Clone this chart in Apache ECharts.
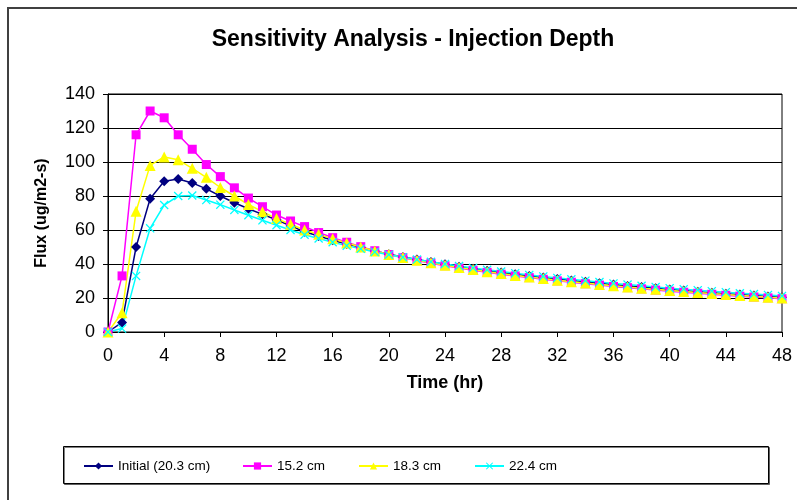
<!DOCTYPE html>
<html>
<head>
<meta charset="utf-8">
<script src="https://cdn.jsdelivr.net/npm/echarts@6/dist/echarts.min.js"></script>
<style>
  html, body { margin: 0; padding: 0; background: #fff; }
  #main { width: 797px; height: 500px; }
</style>
</head>
<body>
<div id="main"></div>
<script>
// time in hours, one point per hour
var hours = [];
for (var h = 0; h <= 48; h++) hours.push(h);

var seriesNames = ['Initial (20.3 cm)', '15.2 cm', '18.3 cm', '22.4 cm'];

var fluxInitial = [0, 5.6, 50, 78.4, 88.7, 90, 87.7, 84.2, 80, 76, 72.5, 69.2, 66, 62.4, 59, 56.5, 54, 51.8, 49.8, 47.6,
  45.8, 44.1, 42.6, 41.2, 39.8, 38.4, 37.2, 36.1, 35, 34, 33, 32.1, 31.2, 30.3, 29.5, 28.7, 27.9, 27.1, 26.4, 25.7,
  25, 24.4, 23.7, 23.1, 22.5, 22, 21.4, 20.9, 20.4];
var flux152 = [0, 33, 116, 130, 126, 116, 107.5, 98.5, 91.4, 84.8, 78.8, 73.7, 68.8, 65.3, 62, 58.5, 55.5, 52.8, 50.2, 47.8,
  45.6, 43.7, 42, 40.5, 39, 37.6, 36.3, 35.1, 34, 33, 32, 31, 30.1, 29.3, 28.4, 27.6, 26.8, 26.1, 25.4, 24.7,
  24, 23.4, 22.8, 22.2, 21.6, 21.1, 20.6, 20.1, 19.6];
var flux183 = [0, 11.3, 71, 98, 103, 101.3, 96.3, 91, 85, 80, 75, 70.8, 66.7, 63.4, 60, 57.5, 54.8, 52.3, 50, 47.7,
  45.6, 43.8, 42.2, 40.7, 39.3, 37.9, 36.7, 35.5, 34.4, 33.3, 32.4, 31.4, 30.5, 29.6, 28.8, 28, 27.2, 26.5, 25.8, 25.1,
  24.4, 23.8, 23.2, 22.6, 22, 21.5, 21, 20.5, 20];
var flux224 = [0, 2, 33, 61, 74.7, 80, 80.3, 77.6, 74.9, 71.8, 68.7, 65.7, 62.8, 60, 57.2, 55, 52.8, 50.8, 48.9, 47.1,
  45.5, 44, 42.6, 41.3, 40, 38.8, 37.7, 36.6, 35.6, 34.6, 33.6, 32.7, 31.8, 31, 30.2, 29.4, 28.6, 27.9, 27.2, 26.5,
  25.8, 25.2, 24.6, 24, 23.4, 22.8, 22.3, 21.8, 21.2];

function pairs(vals) {
  var out = [];
  for (var i = 0; i < vals.length; i++) out.push([hours[i], vals[i]]);
  return out;
}

var xMark = 'path://M0,1L1,0L5,4L9,0L10,1L6,5L10,9L9,10L5,6L1,10L0,9L4,5Z';
var fontName = 'Liberation Sans, Arial, sans-serif';

function lineSeries(name, vals, color, symbol, size) {
  return {
    name: name,
    type: 'line',
    data: pairs(vals),
    symbol: symbol,
    symbolSize: size,
    showAllSymbol: true,
    color: color,
    lineStyle: { color: color, width: 1.5 },
    itemStyle: { color: color },
    emphasis: { disabled: true },
    animation: false
  };
}

function legendAt(left, name) {
  return {
    data: [name],
    left: left,
    top: 454,
    itemWidth: 29,
    itemHeight: 9,
    itemGap: 0,
    textStyle: { color: '#000', fontSize: 13.5, fontFamily: fontName },
    selectedMode: false
  };
}

var myChart = echarts.init(document.getElementById('main'));

var option = {
  backgroundColor: '#fff',
  animation: false,
  title: {
    text: 'Sensitivity Analysis - Injection Depth',
    left: 408,
    top: 23,
    textAlign: 'center',
    textStyle: { color: '#000', fontSize: 23, fontWeight: 'bold', fontFamily: fontName }
  },
  graphic: [
    {
      type: 'rect',
      shape: { x: 8, y: 8, width: 800, height: 500 },
      style: { fill: 'none', stroke: '#404040', lineWidth: 2 },
      silent: true
    },
    {
      type: 'rect',
      shape: { x: 63.5, y: 446.5, width: 705, height: 37 },
      style: { fill: '#fff', stroke: '#000', lineWidth: 1, shadowColor: 'rgba(0,0,0,0.5)', shadowOffsetX: 1, shadowOffsetY: 1 },
      silent: true,
      z: -1
    }
  ],
  legend: [
    legendAt(78, seriesNames[0]),
    legendAt(237, seriesNames[1]),
    legendAt(353, seriesNames[2]),
    legendAt(469, seriesNames[3])
  ],
  grid: {
    left: 108,
    right: 15,
    top: 94,
    bottom: 168,
    show: true,
    borderColor: '#000',
    borderWidth: 1,
    backgroundColor: '#fff'
  },
  xAxis: {
    type: 'value',
    min: 0,
    max: 48,
    interval: 4,
    name: 'Time (hr)',
    nameLocation: 'middle',
    nameGap: 42,
    nameTextStyle: { color: '#000', fontSize: 18, fontWeight: 'bold', fontFamily: fontName },
    axisLine: { lineStyle: { color: '#000', width: 1 } },
    axisTick: { show: true, length: 5, lineStyle: { color: '#000' } },
    axisLabel: { color: '#000', fontSize: 18, fontFamily: fontName, margin: 15 },
    splitLine: { show: false }
  },
  yAxis: {
    type: 'value',
    min: 0,
    max: 140,
    interval: 20,
    name: 'Flux (ug/m2-s)',
    nameLocation: 'middle',
    nameGap: 58,
    nameTextStyle: { color: '#000', fontSize: 16, fontWeight: 'bold', fontFamily: fontName },
    axisLine: { show: true, lineStyle: { color: '#000', width: 1 } },
    axisTick: { show: true, length: 5, lineStyle: { color: '#000' } },
    axisLabel: { color: '#000', fontSize: 18, fontFamily: fontName, margin: 13 },
    splitLine: { show: true, lineStyle: { color: '#000', width: 1 } }
  },
  series: [
    lineSeries(seriesNames[0], fluxInitial, '#000080', 'diamond', 10),
    lineSeries(seriesNames[1], flux152, '#FF00FF', 'rect', 9),
    lineSeries(seriesNames[2], flux183, '#FFFF00', 'triangle', 11),
    lineSeries(seriesNames[3], flux224, '#00FFFF', xMark, 9)
  ]
};

myChart.setOption(option);
</script>
</body>
</html>
